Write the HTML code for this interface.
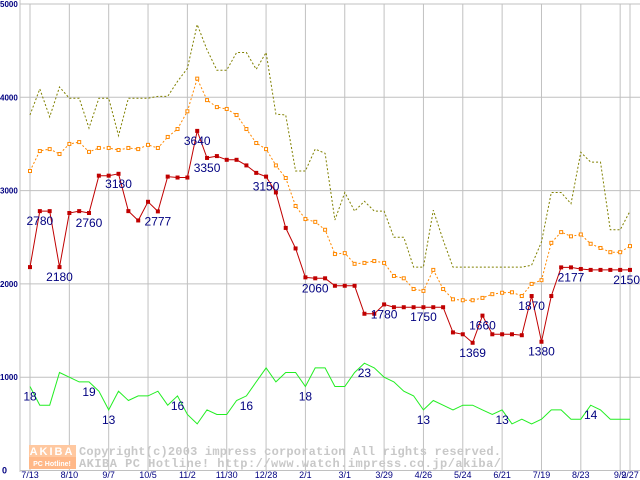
<!DOCTYPE html>
<html><head><meta charset="utf-8"><style>
body{margin:0;background:#fff;}
svg{display:block;font-family:"Liberation Sans",sans-serif;}
</style></head><body>
<svg id="chart" width="640" height="480" viewBox="0 0 640 480" xmlns="http://www.w3.org/2000/svg">
<rect x="0" y="0" width="640" height="480" fill="#fff"/>
<g id="grid"></g>
<g id="watermark">
<rect x="29" y="445" width="47" height="12" fill="#ffc8a0"/>
<rect x="29" y="457" width="47" height="12" fill="#ffb888"/>
<text x="52" y="455" fill="#fff" font-size="11" font-weight="bold" text-anchor="middle" letter-spacing="2">AKIBA</text>
<text x="52" y="466" fill="#fff" font-size="7" font-weight="bold" text-anchor="middle">PC Hotline!</text>
<text x="79" y="455" fill="#c8c8c8" font-family="Liberation Mono, monospace" font-size="12" font-weight="bold" textLength="422" lengthAdjust="spacing">Copyright(c)2003 impress corporation All rights reserved.</text>
<text x="79" y="467" fill="#c8c8c8" font-family="Liberation Mono, monospace" font-size="12" font-weight="bold" textLength="422" lengthAdjust="spacing">AKIBA PC Hotline!  http://www.watch.impress.co.jp/akiba/</text>
</g>
<g id="series"></g>
<g id="labels"></g>
</svg>
<script>
const xTickLabels = ["7/13","8/10","9/7","10/5","11/2","11/30","12/28","2/1","3/1","3/29","4/26","5/24","6/21","7/19","8/23","9/2","9/27"];
const xTickIndex = [0,4,8,12,16,20,24,28,32,36,40,44,48,52,56,60,61];
const yTicks = [0,1000,2000,3000,4000,5000];
const lowPrice = [2180,2780,2780,2180,2760,2780,2760,3160,3160,3180,2780,2680,2880,2777,3150,3140,3140,3640,3350,3370,3330,3330,3270,3190,3150,2980,2600,2380,2070,2060,2060,1980,1980,1980,1680,1680,1780,1750,1750,1750,1750,1750,1750,1480,1460,1369,1660,1460,1460,1460,1450,1870,1380,1870,2177,2177,2160,2150,2150,2150,2150,2150];
const avgPrice = [3210,3424,3445,3392,3500,3520,3415,3457,3457,3435,3457,3445,3490,3457,3575,3660,3850,4200,3970,3895,3875,3810,3660,3510,3445,3270,3135,2835,2695,2665,2580,2320,2330,2215,2225,2245,2225,2085,2060,1945,1925,2150,1945,1835,1825,1825,1850,1890,1905,1910,1870,2000,2040,2440,2555,2510,2530,2430,2385,2340,2340,2405];
const highPrice = [3810,4090,3790,4110,3990,3990,3670,3990,3990,3590,3990,3990,3990,4010,4010,4170,4310,4780,4510,4290,4290,4480,4480,4300,4480,3820,3810,3210,3210,3445,3400,2685,2980,2780,2885,2780,2780,2500,2500,2180,2180,2790,2470,2180,2180,2180,2180,2180,2180,2180,2180,2200,2450,2980,2980,2860,3410,3305,3305,2580,2580,2780];
const shopCount = [18,14,14,21,20,19,19,17,13,17,15,16,16,17,14,16,12,10,13,12,12,15,16,19,22,19,21,21,18,22,22,18,18,21,23,22,20,19,17,16,13,15,14,13,14,14,13,12,13,10,11,10,11,13,13,11,11,14,13,11,11,11];
const lowLabelIdx = [1,3,6,9,13,17,18,24,29,36,40,45,46,51,52,55,61];
const countLabelIdx = [0,6,8,15,22,28,34,40,48,57];

const NS="http://www.w3.org/2000/svg";
const X0=30, DX=(630-30)/61, Y0=470.5, KY=0.0933, L=20, R=640;
const xs=i=>X0+i*DX;
const ys=v=>Y0-v*KY;
const cnt=c=>ys(c*50);
function mk(t,a,p){const e=document.createElementNS(NS,t);for(const k in a)e.setAttribute(k,a[k]);p.appendChild(e);return e;}
const grid=document.getElementById('grid');
yTicks.forEach(v=>{
  const l=mk('line',{x1:L,x2:R,y1:ys(v),y2:ys(v),stroke:'#c0c0c0','stroke-width':1},grid);
  
  
  const t=mk('text',{x:v===0?2:0,y:ys(v)+3,fill:'#000080','font-size':v===0?9:8,'font-weight':'bold'},grid);
  t.textContent=String(v);
  
  
});
mk('line',{x1:L,x2:L,y1:0,y2:472,stroke:'#c0c0c0','stroke-width':1},grid);
xTickIndex.forEach((ix,k)=>{
  const x=xs(ix);
  const l=mk('line',{x1:x,x2:x,y1:4,y2:472,stroke:'#c0c0c0','stroke-width':1},grid);
  
  
  const t=mk('text',{x:x,y:478,fill:'#000080','font-size':9,'text-anchor':'middle'},grid);
  t.textContent=xTickLabels[k];
  
  
});
const ser=document.getElementById('series');
function poly(arr,f,attrs,name){
  const p=mk('polyline',Object.assign({points:arr.map((v,i)=>xs(i).toFixed(1)+','+f(v).toFixed(1)).join(' '),fill:'none'},attrs),ser);
  
  
}
poly(shopCount,cnt,{stroke:'#22ee22','stroke-width':1},'shop-count-line');
poly(highPrice,ys,{stroke:'#808000','stroke-width':1,'stroke-dasharray':'2,2'},'high-price-line');
poly(avgPrice,ys,{stroke:'#ff8800','stroke-width':1,'stroke-dasharray':'2,2'},'avg-price-line');
avgPrice.forEach((v,i)=>{
  const r=mk('rect',{x:xs(i)-1.5,y:ys(v)-1.5,width:3,height:3,fill:'#fff',stroke:'#ff8800','stroke-width':1},ser);
  
  
});
poly(lowPrice,ys,{stroke:'#c00000','stroke-width':1},'low-price-line');
lowPrice.forEach((v,i)=>{
  const r=mk('rect',{x:xs(i)-2,y:ys(v)-2,width:4,height:4,fill:'#c00000'},ser);
  
  
});
const lab=document.getElementById('labels');
lowLabelIdx.forEach(i=>{
  const last=i===lowPrice.length-1;
  const t=mk('text',{x:last?640:xs(i),y:ys(lowPrice[i])+14,fill:'#000080','font-size':12,'text-anchor':last?'end':'middle'},lab);
  t.textContent=String(lowPrice[i]);
  
  
});
countLabelIdx.forEach(i=>{
  const t=mk('text',{x:xs(i),y:cnt(shopCount[i])+14,fill:'#000080','font-size':12,'text-anchor':'middle'},lab);
  t.textContent=String(shopCount[i]);
  
  
});
</script>
</body></html>
